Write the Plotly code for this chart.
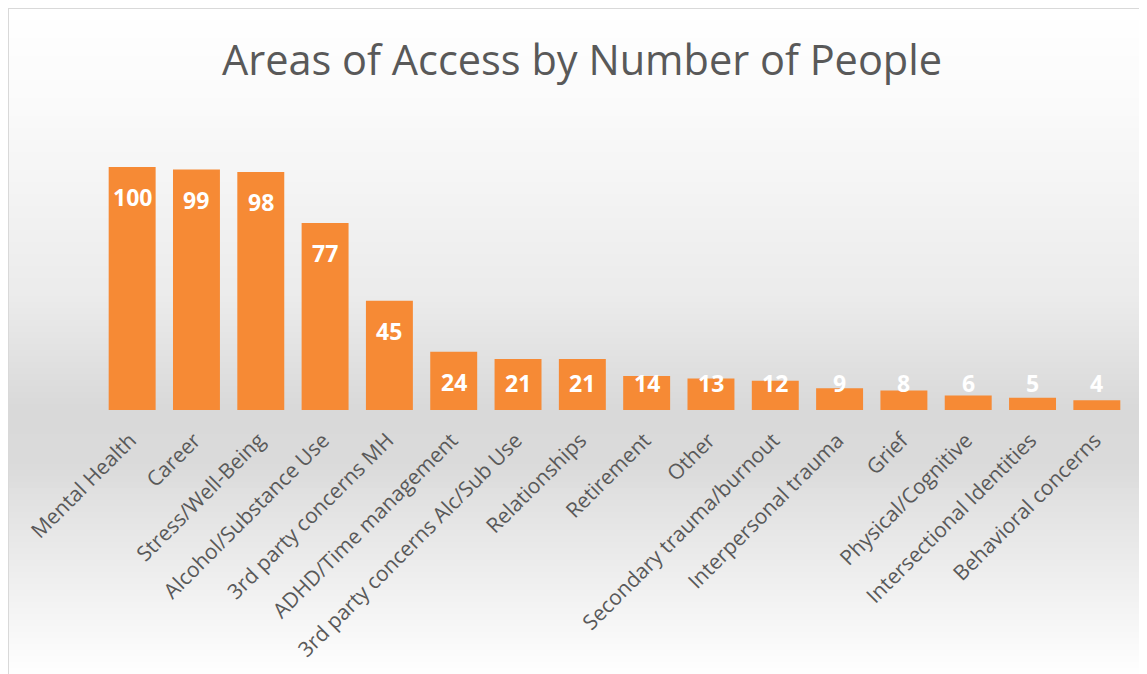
import plotly.graph_objects as go

categories = ["Mental Health", "Career", "Stress/Well-Being", "Alcohol/Substance Use",
              "3rd party concerns MH", "ADHD/Time management", "3rd party concerns Alc/Sub Use",
              "Relationships", "Retirement", "Other", "Secondary trauma/burnout",
              "Interpersonal trauma", "Grief", "Physical/Cognitive", "Intersectional Identities",
              "Behavioral concerns"]
values = [100, 99, 98, 77, 45, 24, 21, 21, 14, 13, 12, 9, 8, 6, 5, 4]
title_text = "Areas of Access by Number of People"

OFF = 8  # page body margin
W, H = 1147, 674
ML, MT = 100 - OFF, 118 - OFF
PW, PH = 1129 - 100, 292
MR = W - ML - PW
MB = H - MT - PH
YMAX = 120.2

def px_to_paper_y(ypage):
    return (MT + PH - (ypage - OFF)) / PH

def px_to_paper_x(xpage):
    return ((xpage - OFF) - ML) / PW

fig = go.Figure()
fig.add_trace(go.Bar(x=categories, y=values, marker=dict(color="#F68A35", line=dict(width=0)),
                     hoverinfo="x+y"))

def lerp(c1, c2, t):
    return tuple(round(a + (b - a) * t) for a, b in zip(c1, c2))

stops = [(7, (255, 255, 255)), (110, (250, 250, 250)), (300, (235, 235, 235)),
         (410, (217, 217, 217)), (460, (218, 218, 218)), (560, (236, 236, 236)),
         (680, (255, 255, 255))]
shapes = []
step = 6
ypix = 8
while ypix < H + 10:
    y2 = ypix + step
    mid = (ypix + y2) / 2
    c = stops[-1][1]
    for (p1, c1), (p2, c2) in zip(stops[:-1], stops[1:]):
        if p1 <= mid <= p2:
            c = lerp(c1, c2, (mid - p1) / (p2 - p1))
            break
    shapes.append(dict(type="rect", xref="paper", yref="paper", layer="below",
                       x0=px_to_paper_x(8), x1=px_to_paper_x(W + 20),
                       y0=px_to_paper_y(y2), y1=px_to_paper_y(ypix),
                       fillcolor="rgb(%d,%d,%d)" % c, line=dict(width=0)))
    ypix = y2
shapes.append(dict(type="rect", xref="paper", yref="paper", layer="above",
                   x0=px_to_paper_x(8.0), x1=px_to_paper_x(W + 30),
                   y0=px_to_paper_y(H + 30), y1=px_to_paper_y(8.0),
                   fillcolor="rgba(0,0,0,0)", line=dict(width=2, color="#d9d9d9")))

annotations = []
for c, v in zip(categories, values):
    annotations.append(dict(x=c, y=max(v - 12.35, 11.1), xref="x", yref="y", text=str(v),
                            showarrow=False,
                            font=dict(family="Open Sans", size=23, color="white", weight="bold"),
                            yanchor="middle"))

fig.update_layout(
    width=W, height=H,
    margin=dict(l=ML, r=MR, t=MT, b=MB),
    paper_bgcolor="white", plot_bgcolor="rgba(0,0,0,0)",
    bargap=0.27,
    title=dict(text=title_text, x=(582 - OFF) / W, xanchor="center",
               y=1 - (60 - OFF) / H, yanchor="middle",
               font=dict(family="Open Sans", size=41.5, color="#595959")),
    xaxis=dict(tickangle=-45, tickfont=dict(family="Open Sans", size=21, color="#595959"),
               showgrid=False, zeroline=False, showline=False, ticks="",
               ticklabelstandoff=13, ticklabelshift=-2),
    yaxis=dict(range=[0, YMAX], visible=False),
    shapes=shapes, annotations=annotations, showlegend=False,
)
fig.write_html("out.html")
